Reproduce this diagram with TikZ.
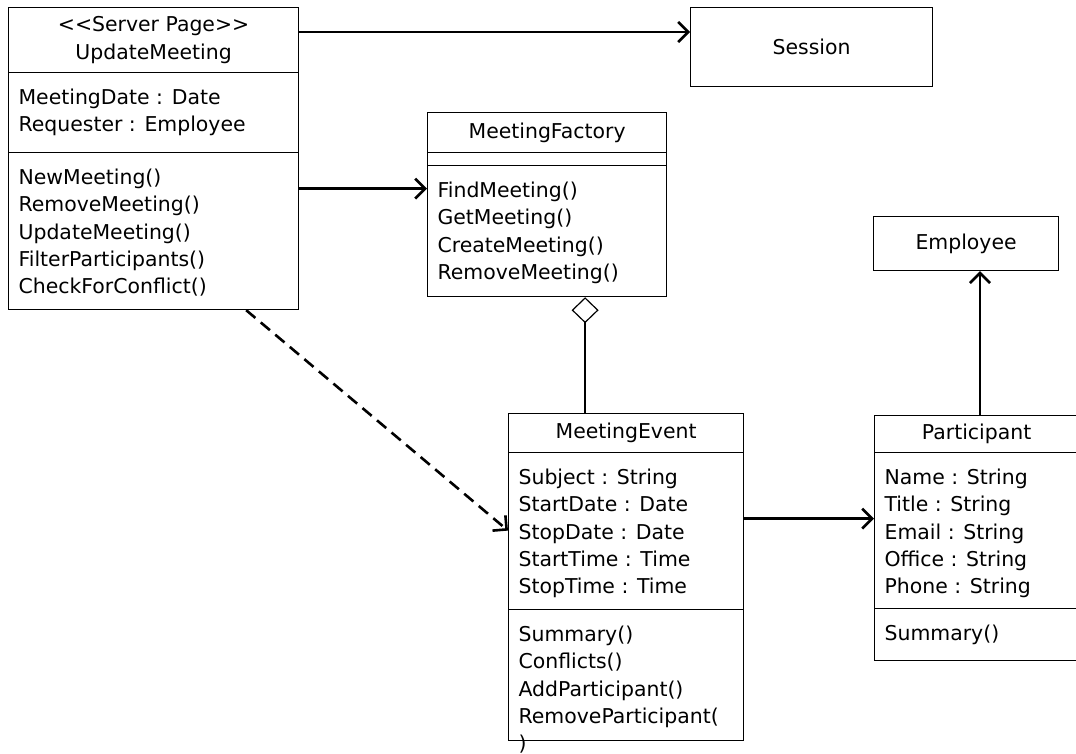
\documentclass[tikz,border=0pt]{standalone}
\usepackage{fontspec}
\setmainfont{DejaVu Sans}
\usetikzlibrary{shapes.multipart}
\usetikzlibrary{arrows.meta}
\usetikzlibrary{calc, positioning}

\begin{document}
\begin{tikzpicture}[x=1bp, y=-1bp, line width=2.6bp,
    > = {Straight Barb[length=10bp, width=20bp]},
    font=\fontsize{20.5}{27.5}\selectfont]
    \tikzset{
      my class split/.style={
        rectangle split, rectangle split parts=#1, draw, line width=1.2pt,
        anchor=north west, inner xsep=10bp, inner ysep=0pt,
        rectangle split ignore empty parts=false
      },
      my plain box/.style={
        draw, line width=1.2pt, anchor=north west, inner sep=0pt
      },
    }
    \useasboundingbox (0,0) rectangle (1076,754);
    % Compartments: text width, height, text
    \def\TitlePart#1#2#3{\parbox[c][\dimexpr#2bp-1.2pt\relax][c]{#1bp}{\centering\strut #3\strut}}
    \def\MemberPart#1#2#3{\parbox[c][\dimexpr#2bp-1.2pt\relax][t]{#1bp}{\raggedright\vspace*{12bp}\strut #3}}
    \def\EmptyPart#1#2{\parbox[c][\dimexpr#2bp-1.2pt\relax]{#1bp}{}}

    % Draw classes
    \node (um) [my class split=3] at (8,7)
    {\TitlePart{270}{65}{\textless\kern0pt\textless Server Page\textgreater\kern0pt\textgreater\\UpdateMeeting}
     \nodepart{two} \MemberPart{270}{80}{MeetingDate : Date\\Requester : Employee}
     \nodepart{three} \MemberPart{270}{157}{NewMeeting()\\RemoveMeeting()\\UpdateMeeting()\\FilterParticipants()\\CheckForConflict()}};
    \node (session) [my plain box, minimum width=242bp, minimum height=79bp] at (690,7) {Session};
    \node (factory) [my class split=3] at (427,112)
    {\TitlePart{219}{40}{MeetingFactory}
     \nodepart{two} \EmptyPart{219}{13}
     \nodepart{three} \MemberPart{219}{131}{FindMeeting()\\GetMeeting()\\CreateMeeting()\\RemoveMeeting()}};
    \node (event) [my class split=3] at (508,413)
    {\TitlePart{215}{39}{MeetingEvent}
     \nodepart{two} \MemberPart{215}{157}{Subject : String\\StartDate : Date\\StopDate : Date\\StartTime : Time\\StopTime : Time}
     \nodepart{three} \MemberPart{215}{131}{Summary()\\Conflicts()\\AddParticipant()\\RemoveParticipant(\\)}};
    \node (employee) [my plain box, minimum width=185bp, minimum height=54bp] at (873,216) {Employee};
    \node (participant) [my class split=3] at (874,415)
    {\TitlePart{184}{37}{Participant}
     \nodepart{two} \MemberPart{184}{156}{Name : String\\Title : String\\Email : String\\Office : String\\Phone : String}
     \nodepart{three} \MemberPart{184}{52}{Summary()}};

    % Arrows
    \coordinate (um out) at ([yshift=-25bp]um.north east);
    \draw[->] (um out) -- (um out -| session.west);
    \coordinate (factory in) at ([yshift=-23bp]factory.two split west);
    \draw[->] (um.east |- factory in) -- (factory in);
    \coordinate (factory out) at ([xshift=38bp]factory.south);
    \draw[{Diamond[open, length=26bp, width=27bp, line width=1.2pt]}-] (factory out) -- (factory out |- event.north);
    \coordinate (event out) at ([yshift=-66bp]event.one split east);
    \draw[->] (event out) -- (event out -| participant.west);
    \coordinate (participant out) at ([xshift=106bp]participant.north west);
    \draw[->] (participant out) -- (participant out |- employee.south);
    \draw[->, dash pattern=on 12bp off 7bp] ([xshift=-53bp]um.south east) -- ([yshift=-78bp]event.one split west);

\end{tikzpicture}
\end{document}
